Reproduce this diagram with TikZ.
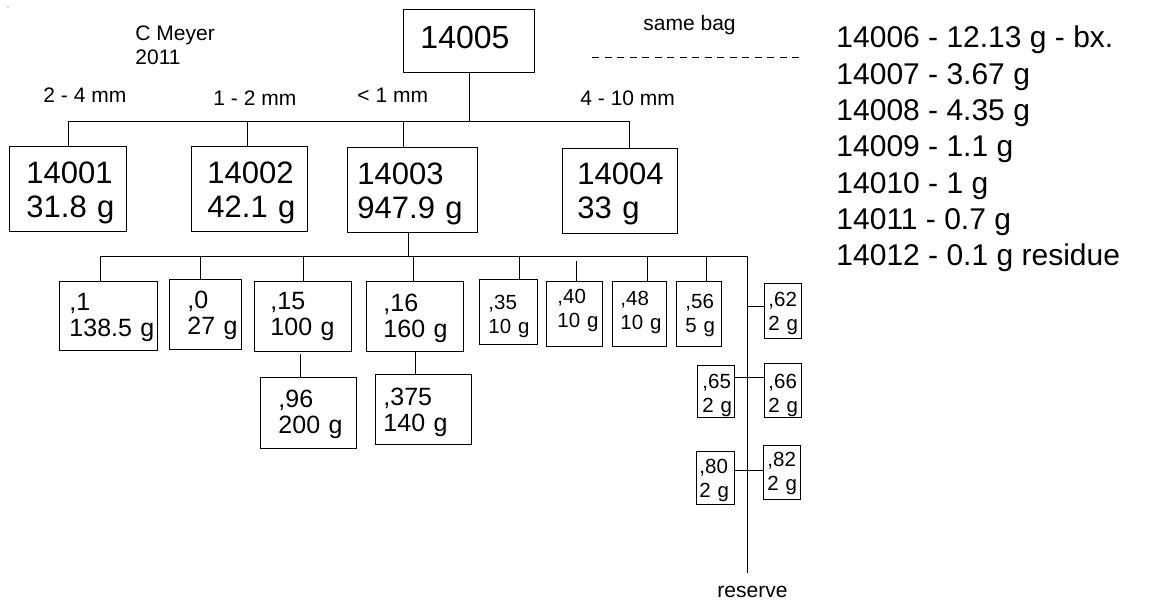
\documentclass[tikz,border=0pt]{standalone}
\usepackage{fontspec}
\setmainfont{Liberation Sans}
\newcommand\fBig{\fontsize{31pt}{34pt}\selectfont}
\newcommand\fTop{\fontsize{32pt}{34pt}\selectfont}
\newcommand\fSmall{\fontsize{25pt}{26pt}\selectfont}
\newcommand\fTiny{\fontsize{20.5pt}{24.5pt}\selectfont}
\newcommand\fLab{\fontsize{21pt}{24pt}\selectfont}
\newcommand\fList{\fontsize{30pt}{36pt}\selectfont}
% \bx[font]{name}{x}{y}{w}{h}{pad}{first baseline offset}{text}
\newcommand\bx[9][\fBig]{%
  \pgfmathsetlengthmacro\bxtw{#5-2*#7}%
  \pgfmathsetlengthmacro\bxtd{#6-#8}%
  \node[box,font=#1,text width=\bxtw,inner xsep=#7pt,text height=#8pt,text depth=\bxtd] (#2) at (#3,#4) {#9};}
\begin{document}
\begin{tikzpicture}[x=1pt,y=-1pt,line width=0.95pt,
  box/.style={draw, anchor=north west, align=left, inner ysep=0pt},
  lab/.style={anchor=base west, inner sep=0pt, font=\fLab},
  bagline/.style={dash pattern=on 7pt off 5.5pt, line width=0.85pt}]
\fill[white] (0,0) rectangle (1155,604);
\useasboundingbox (0,0) rectangle (1155,604);
\fill[gray!70] (8,7) circle (0.8);

% labels
\node[lab] (author) at (135,41) {C Meyer};
\node[lab] (year) at (135,65) {2011};
\node[lab] (l24) at (43,103) {2 - 4 mm};
\node[lab] (l12) at (213,106) {1 - 2 mm};
\node[lab] (l1) at (357,103) {< 1 mm};
\node[lab] (l410) at (580,106) {4 - 10 mm};
\node[lab] (same) at (643,31) {same bag};
\node[lab] (reserve) at (717,597) {reserve};

\coordinate (dA) at (592,57);
\coordinate (dB) at (803,57);
\draw[bagline] (dA) -- (dB);

\foreach \t [count=\i] in {14006 - 12.13 g - bx., 14007 - 3.67 g, 14008 - 4.35 g, 14009 - 1.1 g, 14010 - 1 g, 14011 - 0.7 g, 14012 - 0.1 g residue}
  \node[lab,font=\fList] (list\i) at (836,{48+36.3*(\i-1)}) {\t};

% big boxes
\bx[\fTop]{n14005}{403}{9}{131}{63}{17}{39}{14005}
\bx{n14001}{9}{146}{117}{85}{17}{37}{14001\\31.8~g}
\bx{n14002}{191}{146}{116}{85}{16}{37}{14002\\42.1~g}
\bx{n14003}{347}{147}{130}{85}{10}{37}{14003\\947.9~g}
\bx{n14004}{562}{148}{115}{85}{15}{36}{14004\\33~g}

% small boxes
\bx[\fSmall]{n1}{59}{281}{98}{69}{10}{29}{,1\\138.5~g}
\bx[\fSmall]{n0}{169}{279}{72}{70}{18}{29}{,0\\27~g}
\bx[\fSmall]{n15}{254}{281}{97}{70}{16}{28}{,15\\100~g}
\bx[\fSmall]{n16}{366}{281}{97}{70}{17}{30}{,16\\160~g}
\bx[\fSmall]{n96}{260}{377}{96}{71}{18}{30}{,96\\200~g}
\bx[\fSmall]{n375}{375}{374}{96}{70}{8}{31}{,375\\140~g}

% tiny boxes
\bx[\fTiny]{n35}{479}{279}{58}{65}{9}{30}{,35\\10~g}
\bx[\fTiny]{n40}{546}{281}{56}{65}{11}{22}{,40\\10~g}
\bx[\fTiny]{n48}{612}{281}{54}{65}{8}{24}{,48\\10~g}
\bx[\fTiny]{n56}{676}{281}{45}{65}{9}{27}{,56\\5~g}
\bx[\fTiny]{n62}{764}{283}{37}{55}{4}{23}{,62\\2~g}
\bx[\fTiny]{n65}{697}{365}{37}{52}{5}{23}{,65\\2~g}
\bx[\fTiny]{n66}{764}{363}{37}{54}{4}{25}{,66\\2~g}
\bx[\fTiny]{n80}{696}{451}{38}{53}{3}{22}{,80\\2~g}
\bx[\fTiny]{n82}{763}{445}{37}{54}{4}{21}{,82\\2~g}

% level 1 connectors
\coordinate (b1L) at (68,121);
\coordinate (b1R) at (629,121);
\draw (b1L) -- (b1R);
\draw (n14005.south) -- (n14005.south |- b1L);
\coordinate (t2) at (247,121);
\coordinate (t3) at (403,121);
\draw (b1L) -- (b1L |- n14001.north);
\draw (t2) -- (t2 |- n14002.north);
\draw (t3) -- (t3 |- n14003.north);
\draw (b1R) -- (b1R |- n14004.north);

% level 2 connectors
\coordinate (u3) at (408,256);
\draw (u3 |- n14003.south) -- (u3);
\coordinate (b2L) at (100,256);
\coordinate (b2R) at (747,256);
\coordinate (rEnd) at (747,573);
\draw (b2L) -- (b2R);
\draw (b2R) -- (rEnd);
\coordinate (s2) at (200,256);
\coordinate (s3) at (303,256);
\coordinate (s4) at (413,256);
\coordinate (s5) at (519,256);
\coordinate (s6) at (576,261);
\coordinate (s7) at (647,256);
\coordinate (s8) at (706,256);
\draw (b2L) -- (b2L |- n1.north);
\draw (s2) -- (s2 |- n0.north);
\draw (s3) -- (s3 |- n15.north);
\draw (s4) -- (s4 |- n16.north);
\draw (s5) -- (s5 |- n35.north);
\draw (s6) -- (s6 |- n40.north);
\draw (s7) -- (s7 |- n48.north);
\draw (s8) -- (s8 |- n56.north);

\coordinate (v1) at (300,354);
\draw (v1) -- (v1 |- n96.north);
\coordinate (v2) at (415,351);
\draw (v2) -- (v2 |- n375.north);

\coordinate (h1) at (747,306);
\draw (h1) -- (h1 -| n62.west);
\coordinate (h2) at (747,377);
\draw (h2 -| n65.east) -- (h2 -| n66.west);
\coordinate (h3) at (747,470);
\draw (h3 -| n80.east) -- (h3 -| n82.west);
\end{tikzpicture}
\end{document}
